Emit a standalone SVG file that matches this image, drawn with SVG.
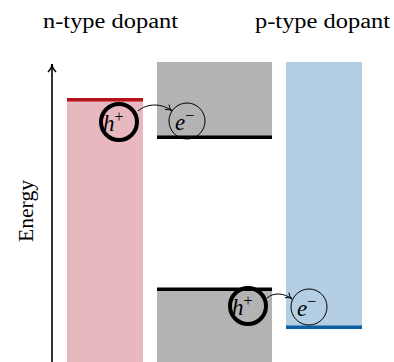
<svg xmlns="http://www.w3.org/2000/svg" width="394" height="362" viewBox="0 0 394 362">
<defs>
<marker id="tip" viewBox="0 0 10 10" refX="9" refY="5" markerWidth="8" markerHeight="8" markerUnits="userSpaceOnUse" orient="auto">
<path d="M1,1 Q5,5 9,5 Q5,5 1,9" fill="none" stroke="#000" stroke-width="1.2"/>
</marker>
<marker id="tipbig" viewBox="0 0 10 10" refX="9" refY="5" markerWidth="10" markerHeight="10" markerUnits="userSpaceOnUse" orient="auto">
<path d="M1,1 Q5,5 9,5 Q5,5 1,9" fill="none" stroke="#000" stroke-width="1.5"/>
</marker>
</defs>
<style>
.lbl{font-family:"Liberation Serif","DejaVu Serif",serif;font-size:20px;fill:#000}
.sym{font-family:"Liberation Serif","DejaVu Serif",serif;font-style:italic;font-size:23px;fill:#000}
.sup{font-size:16px;font-style:normal}
.hole{fill:none;stroke:#000;stroke-width:4}
.elec{fill:none;stroke:#000;stroke-width:1}
.conn{fill:none;stroke:#000;stroke-width:1}
</style>
<rect width="394" height="362" fill="#fff"/>
<text class="lbl" x="43" y="28" textLength="135" lengthAdjust="spacingAndGlyphs">n-type dopant</text>
<text class="lbl" x="255" y="28" textLength="135" lengthAdjust="spacingAndGlyphs">p-type dopant</text>
<g id="axis">
<line x1="52" y1="362" x2="52" y2="64" stroke="#000" stroke-width="1.6" marker-end="url(#tipbig)"/>
<text class="lbl" transform="translate(33,211) rotate(-90)" text-anchor="middle" textLength="62" lengthAdjust="spacingAndGlyphs">Energy</text>
</g>
<g id="n-dopant">
<rect x="67" y="100" width="76" height="262" fill="#e7b8bd"/>
<rect x="67" y="98" width="76" height="3.5" fill="#b5121b"/>
</g>
<g id="conduction-band">
<rect x="157" y="62" width="115" height="75" fill="#b3b3b3"/>
<rect x="157" y="135.5" width="115" height="3.5" fill="#000"/>
</g>
<g id="valence-band">
<rect x="157" y="288" width="115" height="74" fill="#b3b3b3"/>
<rect x="157" y="287.5" width="115" height="3.5" fill="#000"/>
</g>
<g id="p-dopant">
<rect x="286" y="62" width="76" height="265" fill="#b4cfe3"/>
<rect x="286" y="325.5" width="76" height="3.5" fill="#0b5fa5"/>
</g>
<g id="hole-top">
<circle class="hole" cx="119" cy="122" r="18"/>
<text class="sym" x="103" y="131">h<tspan class="sup" dy="-9">+</tspan></text>
</g>
<g id="electron-top">
<circle class="elec" cx="187" cy="121" r="18"/>
<text class="sym" x="175" y="130">e<tspan class="sup" dy="-9">−</tspan></text>
</g>
<g id="hole-bottom">
<circle class="hole" cx="248" cy="306" r="18"/>
<text class="sym" x="232" y="315">h<tspan class="sup" dy="-9">+</tspan></text>
</g>
<g id="electron-bottom">
<circle class="elec" cx="309" cy="307" r="18"/>
<text class="sym" x="297" y="316">e<tspan class="sup" dy="-9">−</tspan></text>
</g>
<g id="connectors">
<path class="conn" d="M138,111 C147,103 162,103 172,111" marker-end="url(#tip)"/>
<path class="conn" d="M267,298 C274,292 284,293 292,299" marker-end="url(#tip)"/>
</g>
</svg>
